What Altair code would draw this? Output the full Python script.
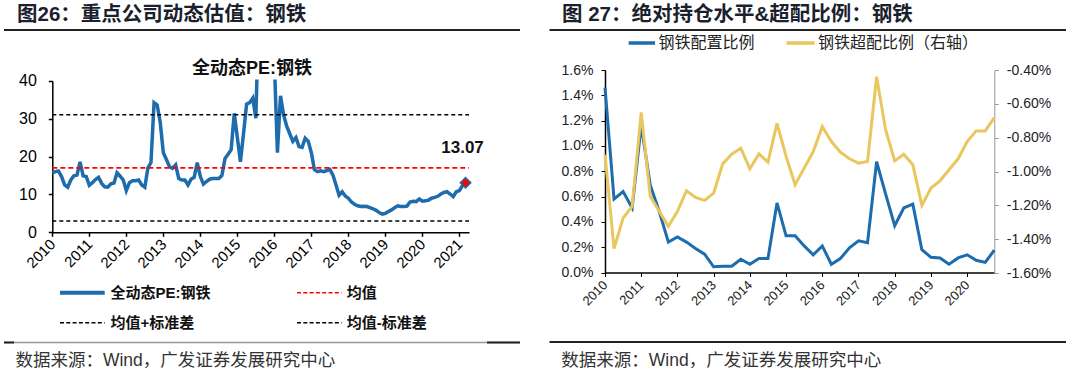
import altair as alt
import pandas as pd

# ---------------- data ----------------
# monthly dynamic PE of steel, Jan 2010 .. Mar 2021 (values above 40 run off the chart)
pe_values = [
    15.7, 16.0, 16.2, 14.7, 12.5, 11.9, 13.8, 14.9, 15.1, 18.6, 14.9, 14.7,   # 2010
    12.4, 13.1, 13.9, 14.5, 12.9, 12.0, 11.9, 12.8, 13.0, 15.7, 14.8, 13.8,   # 2011
    11.0, 13.1, 13.6, 13.6, 13.8, 12.5, 11.9, 17.0, 18.4, 34.2, 33.6, 29.0,   # 2012
    21.0, 19.2, 17.3, 16.9, 17.8, 14.2, 13.8, 13.8, 12.5, 14.0, 14.5, 18.4,   # 2013
    14.7, 12.7, 13.4, 14.0, 14.2, 14.2, 14.2, 15.0, 19.5, 20.6, 21.8, 31.4,   # 2014
    25.0, 18.6, 26.0, 33.8, 34.2, 35.4, 30.1, 60.0, 70.0, 75.0, 65.0, 55.0,   # 2015
    45.0, 21.0, 36.0, 31.0, 28.0, 26.0, 24.0, 25.0, 22.6, 22.4, 24.8, 24.0,   # 2016
    21.0, 16.5, 16.0, 16.2, 16.0, 16.3, 16.6, 15.1, 12.5, 9.8, 10.7, 9.6,     # 2017
    9.0, 8.0, 7.4, 7.0, 6.8, 6.9, 6.8, 6.5, 6.2, 5.8, 5.2, 4.8,               # 2018
    5.0, 5.5, 5.9, 6.5, 7.0, 6.8, 6.8, 6.9, 8.0, 8.2, 8.1, 8.8,               # 2019
    8.2, 8.3, 8.5, 9.0, 9.2, 9.5, 10.1, 10.5, 10.7, 10.1, 9.4, 10.7,          # 2020
    11.0, 12.3, 13.07,                                                        # 2021
]
pe_mean = 17.0
pe_upper = 31.0
pe_lower = 3.0
pe_last_label = "13.07"
left_years = list(range(2010, 2022))
left_y_ticks = [0, 10, 20, 30, 40]

# quarterly, 2010Q1 .. 2020Q4 (percent)
alloc_pct = [
    1.46, 0.58, 0.64, 0.51, 1.165, 0.69, 0.48, 0.24, 0.28, 0.24, 0.19, 0.145,
    0.045, 0.05, 0.05, 0.105, 0.065, 0.11, 0.11, 0.55, 0.29, 0.29, 0.21, 0.14,
    0.21, 0.065, 0.11, 0.195, 0.25, 0.235, 0.875, 0.62, 0.37, 0.51, 0.54, 0.18,
    0.12, 0.115, 0.065, 0.115, 0.14, 0.097, 0.08, 0.176,
]
overweight_pct = [
    -0.90, -1.456, -1.275, -1.206, -0.65, -1.147, -1.236, -1.324, -1.236, -1.114, -1.153, -1.171,
    -1.128, -0.955, -0.897, -0.862, -0.984, -0.896, -0.945, -0.715, -0.911, -1.078, -0.98, -0.882,
    -0.734, -0.823, -0.886, -0.925, -0.951, -0.941, -0.44, -0.754, -0.937, -0.898, -0.96, -1.20,
    -1.098, -1.055, -0.99, -0.925, -0.823, -0.76, -0.76, -0.681,
]
right_years = list(range(2010, 2021))
right_left_ticks = [0.0, 0.002, 0.004, 0.006, 0.008, 0.010, 0.012, 0.014, 0.016]
right_right_ticks = [-0.016, -0.014, -0.012, -0.010, -0.008, -0.006, -0.004]

title_left = "图26：重点公司动态估值：钢铁"
title_right = "图 27：绝对持仓水平&超配比例：钢铁"
inner_title = "全动态PE:钢铁"
legend_left = ["全动态PE:钢铁", "均值", "均值+标准差", "均值-标准差"]
legend_right = ["钢铁配置比例", "钢铁超配比例（右轴）"]
source_text = "数据来源：Wind，广发证券发展研究中心"

# ---------------- style ----------------
W, H = 1080, 375
FONT = "Liberation Sans, Noto Sans CJK SC, sans-serif"
BLUE = "#1d6cae"
YELLOW = "#e9c75c"
RED = "#ff0000"
DARK = "#1b1f2e"

one = pd.DataFrame({"k": [0]})

# ---------------- left chart ----------------
df_pe = pd.DataFrame({"t": [2010 + i / 12 for i in range(len(pe_values))], "pe": pe_values})
df_mean = pd.DataFrame({"t": [2010], "t2": [2021.26], "pe": [pe_mean]})
df_band = pd.DataFrame({"t": [2010, 2010], "t2": [2021.26, 2021.26], "pe": [pe_upper, pe_lower]})
df_last = df_pe.tail(1)

xL = alt.X(
    "t:Q",
    scale=alt.Scale(domain=[2010, 2021.26], range=[52.3, 469], nice=False, zero=False),
    axis=alt.Axis(orient="bottom", offset=232.3 - H, values=left_years, format="d",
                  labelAngle=-45, labelAlign="right", labelBaseline="middle",
                  labelFontSize=15, labelFont=FONT, labelColor="#000",
                  tickSize=4, tickColor="#000", domainColor="#000", domainWidth=1.5,
                  tickWidth=1.5, labelPadding=5, title=None, grid=False,
                  labelOverlap=False, labelFlush=False),
)
yL = alt.Y(
    "pe:Q",
    scale=alt.Scale(domain=[0, 40], range=[232.3, 80.7], nice=False, zero=False),
    axis=alt.Axis(orient="left", offset=-52.3, values=left_y_ticks,
                  labelFontSize=16, labelFont=FONT, labelColor="#000",
                  tickSize=4, tickColor="#000", domainColor="#000", domainWidth=1.5,
                  tickWidth=1.5, labelPadding=12, title=None, grid=False,
                  labelOverlap=False, labelFlush=False),
)
x2L = alt.X2("t2:Q")

pe_line = alt.Chart(df_pe).mark_line(color=BLUE, strokeWidth=3.5).encode(x=xL, y=yL)
mean_rule = alt.Chart(df_mean).mark_rule(color=RED, strokeWidth=1.6, strokeDash=[5, 3]).encode(x=xL, x2=x2L, y=yL)
band_rule = alt.Chart(df_band).mark_rule(color="#000", strokeWidth=1.6, strokeDash=[4, 3]).encode(x=xL, x2=x2L, y=yL)
last_pt = alt.Chart(df_last).mark_point(shape="diamond", filled=True, size=110, fill=RED,
                                        stroke=BLUE, strokeWidth=1.5, opacity=1).encode(x=xL, y=yL)
last_txt = alt.Chart(df_last).mark_text(text=pe_last_label, dx=-3, dy=-35, fontSize=17,
                                        fontWeight="bold", font=FONT, color="#111").encode(x=xL, y=yL)

left_layer = alt.layer(pe_line, mean_rule, band_rule, last_pt, last_txt)

# white mask hiding the part of the PE line above the 40 top of the axis
mask = alt.Chart(one).mark_rect(color="white", opacity=1).encode(
    x=alt.value(54), x2=alt.value(478), y=alt.value(0), y2=alt.value(79.5))

# ---------------- right chart ----------------
df_r = pd.DataFrame({
    "t": [2010 + i / 4 for i in range(len(alloc_pct))],
    "a": [v / 100 for v in alloc_pct],
    "o": [v / 100 for v in overweight_pct],
})
xR_scale = alt.Scale(domain=[2010, 2020.75], range=[605, 994.3], nice=False, zero=False)
xR_axis = alt.Axis(orient="bottom", offset=272.5 - H, values=right_years, format="d",
                   labelAngle=-45, labelAlign="right", labelBaseline="middle",
                   labelFontSize=13, labelFont=FONT, labelColor="#222",
                   tickSize=4, tickColor="#000", domainColor="#000", domainWidth=1.5,
                   labelPadding=6, title=None, grid=False,
                   labelOverlap=False, labelFlush=False)
yRL_axis = alt.Axis(orient="left", offset=-605, values=right_left_ticks, format=".1%",
                    labelFontSize=14, labelFont=FONT, labelColor="#222",
                    tickSize=4, tickColor="#000", domainColor="#000", domainWidth=1.5,
                    labelPadding=8, title=None, grid=False, labelOverlap=False, labelFlush=False)
yRR_axis = alt.Axis(orient="right", offset=994.3 - W, values=right_right_ticks,
                    labelExpr="(datum.value < 0 ? '-' : '') + format(abs(datum.value) * 100, '.2f') + '%'",
                    labelFontSize=14, labelFont=FONT, labelColor="#222",
                    tickSize=4, tickColor="#999", domainColor="#999", domainWidth=1,
                    labelPadding=8, title=None, grid=False, labelOverlap=False, labelFlush=False)

blue_line = alt.Chart(df_r).mark_line(color=BLUE, strokeWidth=3).encode(
    x=alt.X("t:Q", scale=xR_scale, axis=xR_axis),
    y=alt.Y("a:Q", scale=alt.Scale(domain=[0, 0.016], range=[272.5, 70], nice=False, zero=False), axis=yRL_axis),
)
yellow_line = alt.Chart(df_r).mark_line(color=YELLOW, strokeWidth=3).encode(
    x=alt.X("t:Q", scale=xR_scale, axis=None),
    y=alt.Y("o:Q", scale=alt.Scale(domain=[-0.016, -0.004], range=[273, 70], nice=False, zero=False), axis=yRR_axis),
)


# ---------------- decorations ----------------
def txt(s, x, y, size, weight="normal", color="#111", align="left"):
    return alt.Chart(one).mark_text(text=s, align=align, baseline="middle", fontSize=size,
                                    fontWeight=weight, font=FONT, color=color).encode(
        x=alt.value(x), y=alt.value(y))


def hline(x1, x2, y, color, width, dash=None):
    kw = dict(color=color, strokeWidth=width)
    if dash:
        kw["strokeDash"] = dash
    return alt.Chart(one).mark_rule(**kw).encode(x=alt.value(x1), x2=alt.value(x2), y=alt.value(y))


decos = [
    txt(title_left, 17, 14.5, 20.5, "bold", DARK),
    hline(4, 520, 30, "#222", 2),
    txt(title_right, 562, 14.5, 20.5, "bold", DARK),
    hline(549.5, 1066, 30, "#222", 2),
    txt(inner_title, 252, 69, 18, "bold", "#111", "center"),
    # left legend
    hline(60, 104.7, 292.8, BLUE, 4),
    txt(legend_left[0], 110.5, 292.8, 15, "bold", "#111"),
    hline(297, 341.6, 292.8, RED, 1.6, [4, 2.3]),
    txt(legend_left[1], 346.7, 292.8, 15, "bold", "#111"),
    hline(60, 104.7, 322.7, "#000", 1.6, [4, 2.3]),
    txt(legend_left[2], 110.5, 322.7, 15, "bold", "#111"),
    hline(297, 341.6, 322.7, "#000", 1.6, [4, 2.3]),
    txt(legend_left[3], 346.7, 322.7, 15, "bold", "#111"),
    # right legend
    hline(628.6, 655, 43, BLUE, 3.5),
    txt(legend_right[0], 658.4, 43, 16, "normal", "#222"),
    hline(786.5, 814.6, 43, YELLOW, 3.5),
    txt(legend_right[1], 818, 43, 16, "normal", "#222"),
    # bottom lines + source
    hline(4, 520, 342.5, "#999", 1.5),
    hline(4, 14, 342.5, "#222", 2),
    hline(487, 520, 342.5, "#222", 2),
    txt(source_text, 15.4, 360.5, 17.5, "normal", "#333"),
    hline(549.5, 1066, 342.1, "#222", 2),
    txt(source_text, 561.3, 361, 17.5, "normal", "#333"),
]

chart = alt.layer(left_layer, mask, blue_line, yellow_line, *decos).resolve_scale(
    x="independent", y="independent"
).properties(
    width=W, height=H, autosize=alt.AutoSizeParams(type="none"), padding=0, background="white"
).configure_view(stroke=None).configure_axis(grid=False)

chart.save("out.html", embed_options={"renderer": "svg", "actions": False})
